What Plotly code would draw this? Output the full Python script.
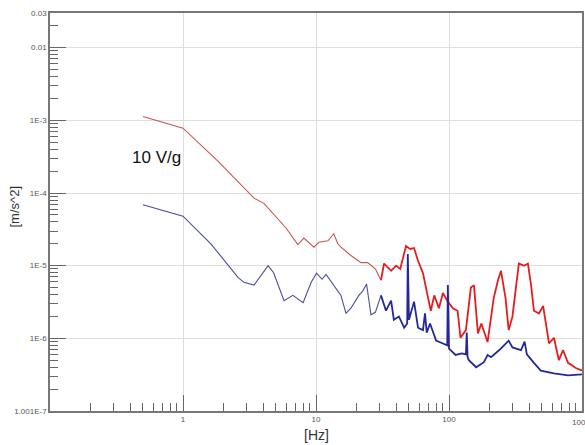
import plotly.graph_objects as go

# Red series (upper)
red_f = [0.5, 1.0, 1.83, 3.42, 4.06, 5.95, 7.3, 8.1, 9.65, 10.5, 12.3, 13.6, 14.6, 15.4, 18.3,
         21.8, 24.5, 28, 30.8,
         32.5, 36.7, 40, 43, 47.5, 51, 54.6, 58.5, 63.7, 69.6, 73, 77.5, 84, 90, 98, 107, 116,
         122, 134, 146, 154, 165, 175, 195, 217, 233, 246, 266, 281, 300, 318, 335, 366, 392,
         413, 435, 475, 510, 545, 565, 615, 670, 720, 785, 900, 1000]
red_v = [1.13e-3, 7.8e-4, 2.75e-4, 8.5e-5, 7.2e-5, 3.3e-5, 1.95e-5, 2.4e-5, 1.8e-5, 2.1e-5,
         2.2e-5, 2.75e-5, 2.0e-5, 1.8e-5, 1.38e-5, 1.1e-5, 1.1e-5, 9e-6, 6.3e-6,
         1.07e-5, 8.5e-6, 1.0e-5, 9.0e-6, 1.86e-5, 1.7e-5, 1.75e-5, 1.17e-5, 7.9e-6, 3.6e-6,
         2.4e-6, 3.9e-6, 2.6e-6, 4.2e-6, 3.2e-6, 2.6e-6, 2.4e-6, 1.02e-6, 1.3e-6, 5.0e-6,
         5.4e-6, 1.17e-6, 1.6e-6, 8.9e-7, 3.6e-6, 6.2e-6, 8.5e-6, 3.6e-6, 1.3e-6, 2.0e-6,
         4.6e-6, 1.07e-5, 1.0e-5, 1.07e-5, 5.6e-6, 2.4e-6, 2.2e-6, 2.8e-6, 1.3e-6, 8.5e-7,
         1.02e-6, 5.0e-7, 6.9e-7, 4.6e-7, 3.9e-7, 3.6e-7]

# Blue series (lower)
blue_f = [0.5, 1.0, 1.62, 2.59, 2.87, 3.42, 4.36, 4.8, 5.75, 6.7, 8.0, 9.2, 10.1, 11.1, 11.9,
          13.0, 15.4, 16.8, 18.3, 21, 22.5, 24, 25.9, 28, 30.8,
          33.6, 36.7, 38.5, 42, 46, 48.5, 49, 50, 54.6, 58.5, 63.7, 66, 68, 72, 80, 90, 97,
          98, 99, 100, 112, 125, 134, 136, 138, 141, 160, 183, 195, 207, 239, 281, 300, 348,
          370, 385, 435, 490, 615, 785, 1000]
blue_v = [6.9e-5, 4.8e-5, 2.0e-5, 6.9e-6, 5.9e-6, 5.4e-6, 1.0e-5, 8.0e-6, 3.3e-6, 3.9e-6,
          3.1e-6, 5.9e-6, 7.9e-6, 6.5e-6, 7.6e-6, 6.0e-6, 3.9e-6, 2.2e-6, 2.6e-6, 3.9e-6,
          4.5e-6, 5.6e-6, 2.1e-6, 2.3e-6, 3.9e-6,
          2.4e-6, 3.3e-6, 1.8e-6, 2.0e-6, 1.4e-6, 1.6e-6, 1.45e-5, 1.8e-6, 3.2e-6, 1.4e-6,
          1.3e-6, 2.2e-6, 1.2e-6, 1.6e-6, 9.3e-7, 8.5e-7, 8.0e-7, 5.4e-6, 8.0e-7, 7.2e-7,
          5.9e-7, 6.2e-7, 6.0e-7, 1.2e-6, 5.5e-7, 5.0e-7, 4.0e-7, 4.7e-7, 5.9e-7, 5.5e-7,
          6.9e-7, 9.3e-7, 7.5e-7, 6.9e-7, 9.0e-7, 6.0e-7, 4.6e-7, 3.6e-7, 3.3e-7, 3.1e-7,
          3.2e-7]

y_tickvals = [1.001e-7, 1e-6, 1e-5, 1e-4, 1e-3, 0.01, 0.03]
y_ticktext = ["1.001E-7", "1E-6", "1E-5", "1E-4", "1E-3", "0.01", "0.03"]
x_tickvals = [1, 10, 100]
x_ticktext = ["1", "10", "100"]
x_edge_label = "1000"
x_title = "[Hz]"
y_title = "[m/s^2]"
note_text = "10 V/g"
split_freq = 30  # where the sparse low-frequency trace turns into the dense noisy band

x_minor = [m * d for d in [0.1, 1, 10, 100] for m in range(2, 10)]
y_minor = [m * d for d in [1e-7, 1e-6, 1e-5, 1e-4, 1e-3, 1e-2] for m in range(2, 10)
           if 1.001e-7 < m * d < 0.03]


def split(freqs, vals):
    k = next(i for i, f in enumerate(freqs) if f >= split_freq)
    return (freqs[:k + 1], vals[:k + 1]), (freqs[k:], vals[k:])


fig = go.Figure()
(rl, rh) = split(red_f, red_v)
(bl, bh) = split(blue_f, blue_v)
fig.add_trace(go.Scatter(x=rl[0], y=rl[1], mode="lines",
                         line=dict(color="rgb(200,85,85)", width=1.1), showlegend=False))
fig.add_trace(go.Scatter(x=rh[0], y=rh[1], mode="lines",
                         line=dict(color="rgb(228,30,30)", width=1.8), showlegend=False))
fig.add_trace(go.Scatter(x=bl[0], y=bl[1], mode="lines",
                         line=dict(color="rgb(75,75,160)", width=1.1), showlegend=False))
fig.add_trace(go.Scatter(x=bh[0], y=bh[1], mode="lines",
                         line=dict(color="rgb(35,40,155)", width=1.8), showlegend=False))

font_family = "Arial, Liberation Sans, sans-serif"
axis_common = dict(
    type="log", ticks="inside", ticklen=16, tickcolor="#666", tickwidth=1,
    showgrid=True, gridcolor="#dedede", gridwidth=1,
    showline=True, linecolor="#777", linewidth=1.5, mirror=True,
    zeroline=False, tickfont=dict(size=8, color="#555"), automargin=False,
)
fig.update_layout(
    width=585, height=445,
    margin=dict(l=50, r=3, t=13, b=34),
    paper_bgcolor="white", plot_bgcolor="white",
    font=dict(family=font_family),
    xaxis=dict(range=[-1, 3], tickvals=x_tickvals, ticktext=x_ticktext,
               minor=dict(tickvals=x_minor, ticks="inside", ticklen=8, tickcolor="#666",
                          showgrid=False),
               **axis_common),
    yaxis=dict(range=[-7, -1.5229], tickvals=y_tickvals, ticktext=y_ticktext,
               minor=dict(tickvals=y_minor, ticks="inside", ticklen=8, tickcolor="#666",
                          showgrid=False),
               **axis_common),
    annotations=[
        dict(text=note_text, xref="paper", yref="paper", x=0.15, y=0.638,
             showarrow=False, font=dict(size=17, color="#111")),
        dict(text=x_edge_label, xref="paper", yref="paper", x=0.978, y=-0.012,
             yanchor="top", xanchor="left", showarrow=False,
             font=dict(size=8, color="#555")),
        dict(text=x_title, xref="paper", yref="paper", x=0.5, y=-0.0603,
             yanchor="middle", xanchor="center", showarrow=False,
             font=dict(size=14, color="#333")),
        dict(text=y_title, xref="paper", yref="paper", x=-0.0667, y=0.5126, textangle=-90,
             xanchor="center", yanchor="middle", showarrow=False,
             font=dict(size=13, color="#333")),
    ],
)

fig.write_html("out.html", config={"displayModeBar": False},
               post_script="document.body.style.margin='0';document.body.style.overflow='hidden';")
